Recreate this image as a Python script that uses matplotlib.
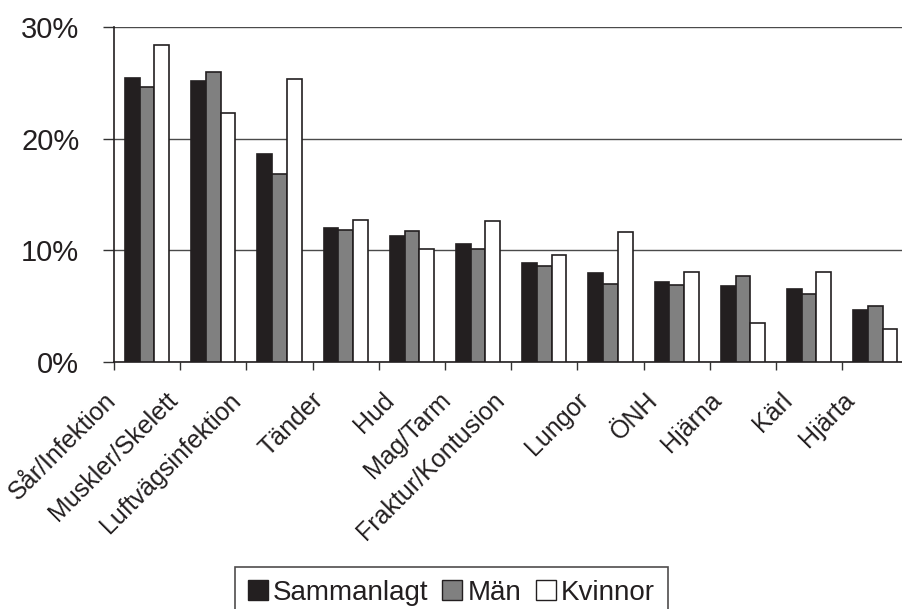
import matplotlib
matplotlib.use("Agg")
import matplotlib.pyplot as plt
from matplotlib.patches import Patch
from matplotlib.transforms import offset_copy
import numpy as np

plt.rcParams['font.family'] = ['Liberation Sans', 'DejaVu Sans']

categories = ["Sår/Infektion", "Muskler/Skelett", "Luftvägsinfektion", "Tänder",
              "Hud", "Mag/Tarm", "Fraktur/Kontusion", "Lungor", "ÖNH",
              "Hjärna", "Kärl", "Hjärta"]
sammanlagt = [25.4, 25.2, 18.6, 12.0, 11.3, 10.6, 8.9, 8.0, 7.2, 6.8, 6.5, 4.7]
man = [24.6, 26.0, 16.8, 11.8, 11.7, 10.1, 8.6, 7.0, 6.9, 7.7, 6.1, 5.0]
kvinnor = [28.4, 22.3, 25.3, 12.7, 10.1, 12.6, 9.6, 11.6, 8.1, 3.5, 8.1, 3.0]
series_names = ["Sammanlagt", "Män", "Kvinnor"]
yticks = [0, 10, 20, 30]
ytick_labels = ["0%", "10%", "20%", "30%"]

W, H = 902, 609
fig = plt.figure(figsize=(W / 100, H / 100), dpi=100)
n = len(categories)
cat_px = 66.2
ax = fig.add_axes([114 / W, 1 - 362 / H, n * cat_px / W, 335 / H])

edge = '#231f20'
colors = ['#231f20', '#808080', '#ffffff']
bw = 0.223
x = np.arange(n) + 0.5
for k, (vals, col) in enumerate(zip([sammanlagt, man, kvinnor], colors)):
    ax.bar(x + (k - 1) * bw, vals, width=bw, color=col, edgecolor=edge,
           linewidth=1.2, zorder=3)

ax.set_xlim(0, n)
ax.set_ylim(0, 30)
ax.set_yticks(yticks)
ax.set_yticklabels(ytick_labels, fontsize=21, color='#231f20')
ax.yaxis.grid(True, color='#4a4a4a', linewidth=1.0, zorder=0)
ax.set_axisbelow(True)
ax.tick_params(axis='y', direction='out', length=8, width=1.0, pad=17,
               color='#333333')
ax.set_xticks(np.arange(n + 1))
ax.set_xticklabels([])
ax.tick_params(axis='x', direction='out', length=6, width=1.0, color='#333333')
for s in ['top', 'right']:
    ax.spines[s].set_visible(False)
for s in ['left', 'bottom']:
    ax.spines[s].set_color('#231f20')
    ax.spines[s].set_linewidth(1.2)

# rotated category labels, shifted left in proportion to their length
renderer = fig.canvas.get_renderer()
label_size = 18
for i, name in enumerate(categories):
    probe = fig.text(0, 0, name, fontsize=label_size)
    L = probe.get_window_extent(renderer).width
    probe.remove()
    dx = -(23 + 0.21 * L * 0.7071)
    tr = offset_copy(ax.transData, fig=fig, x=dx, y=-26, units='dots')
    ax.text(i + 0.5, 0, name, transform=tr, rotation=45,
            rotation_mode='anchor', ha='right', va='top',
            fontsize=label_size, color='#231f20', clip_on=False)

handles = [Patch(facecolor=c, edgecolor=edge, linewidth=1.0) for c in colors]
leg = fig.legend(handles, series_names, loc='upper left',
                 bbox_to_anchor=(235 / W, 1 - 567 / H), ncol=3,
                 fontsize=20, frameon=True, fancybox=False,
                 handlelength=0.72, handleheight=0.72, handletextpad=0.2,
                 columnspacing=0.5, borderpad=0.45, borderaxespad=0)
leg.get_frame().set_edgecolor('#231f20')
leg.get_frame().set_linewidth(1.2)
for t in leg.get_texts():
    t.set_color('#231f20')

fig.savefig('out.png', dpi=100)
